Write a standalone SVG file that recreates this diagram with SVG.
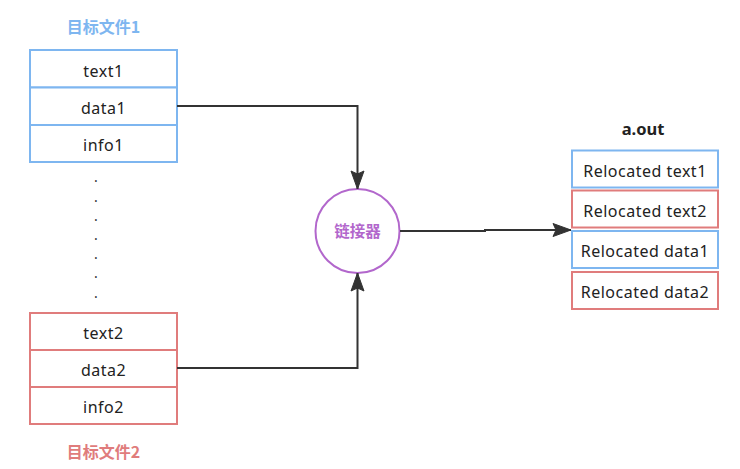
<svg xmlns="http://www.w3.org/2000/svg" width="740" height="469" viewBox="0 0 740 469">
<style>
  .lbl { font-family: "Noto Sans", "Open Sans", sans-serif; font-size: 16px; fill: #222; text-anchor: middle; letter-spacing: 0.5px; }
  .ttl { font-family: "Noto Sans CJK SC", "Noto Sans", sans-serif; font-size: 16px; font-weight: bold; text-anchor: middle; }
  .blue { fill: #fff; stroke: #7EB6F0; stroke-width: 2; }
  .red { fill: #fff; stroke: #E07C7C; stroke-width: 2; }
  .conn { fill: none; stroke: #333; stroke-width: 2; }
  .dot { font-family: "Noto Sans", sans-serif; font-size: 14px; fill: #333; text-anchor: middle; }
</style>
<defs>
  <marker id="arr" markerUnits="userSpaceOnUse" markerWidth="20" markerHeight="16" viewBox="0 0 20 16" refX="19" refY="8" orient="auto">
    <path d="M1,1.5 L19,8 L1,14.5 L4,8 Z" fill="#333" stroke="#333" stroke-width="1"/>
  </marker>
</defs>
<rect width="740" height="469" fill="#fff"/>

<g id="obj1">
  <text class="ttl" x="103.5" y="32.5" style="fill:#7EB6F0">目标文件1</text>
  <rect class="blue" x="30" y="50" width="147" height="37.5"/>
  <rect class="blue" x="30" y="87.5" width="147" height="37.5"/>
  <rect class="blue" x="30" y="125" width="147" height="37"/>
  <text class="lbl" x="103.5" y="76.5">text1</text>
  <text class="lbl" x="103.5" y="113.5">data1</text>
  <text class="lbl" x="103.5" y="150.5">info1</text>
</g>

<g id="dots">
  <text class="dot" x="96" y="182">.</text>
  <text class="dot" x="96" y="202">.</text>
  <text class="dot" x="96" y="221">.</text>
  <text class="dot" x="96" y="240">.</text>
  <text class="dot" x="96" y="259">.</text>
  <text class="dot" x="96" y="278">.</text>
  <text class="dot" x="96" y="298">.</text>
</g>

<g id="obj2">
  <rect class="red" x="30" y="313" width="147" height="37"/>
  <rect class="red" x="30" y="350" width="147" height="37"/>
  <rect class="red" x="30" y="387" width="147" height="37"/>
  <text class="lbl" x="103.5" y="338.5">text2</text>
  <text class="lbl" x="103.5" y="375.5">data2</text>
  <text class="lbl" x="103.5" y="412.5">info2</text>
  <text class="ttl" x="103.5" y="457.5" style="fill:#E07C7C">目标文件2</text>
</g>

<g id="linker">
  <circle cx="357.5" cy="231" r="42" fill="#fff" stroke="#B267CC" stroke-width="2"/>
  <text class="ttl" x="357.5" y="236.5" style="fill:#B267CC;font-size:15.5px">链接器</text>
</g>

<g id="aout">
  <text class="ttl" x="643" y="134.5" style="fill:#222;font-family:'Noto Sans',sans-serif;font-size:16.5px">a.out</text>
  <rect class="blue" x="572" y="150.5" width="146" height="37"/>
  <rect class="red" x="572" y="190.5" width="146" height="37"/>
  <rect class="blue" x="572" y="231" width="146" height="37"/>
  <rect class="red" x="572" y="272" width="146" height="37"/>
  <text class="lbl" x="645" y="176.5">Relocated text1</text>
  <text class="lbl" x="645" y="216.5">Relocated text2</text>
  <text class="lbl" x="645" y="257">Relocated data1</text>
  <text class="lbl" x="645" y="298">Relocated data2</text>
</g>

<g id="connectors">
  <path class="conn" d="M177,106 H357.5 V189" marker-end="url(#arr)"/>
  <path class="conn" d="M177,368 H357.5 V273" marker-end="url(#arr)"/>
  <path class="conn" d="M400,231 H485 V230 H571" marker-end="url(#arr)"/>
</g>
</svg>
